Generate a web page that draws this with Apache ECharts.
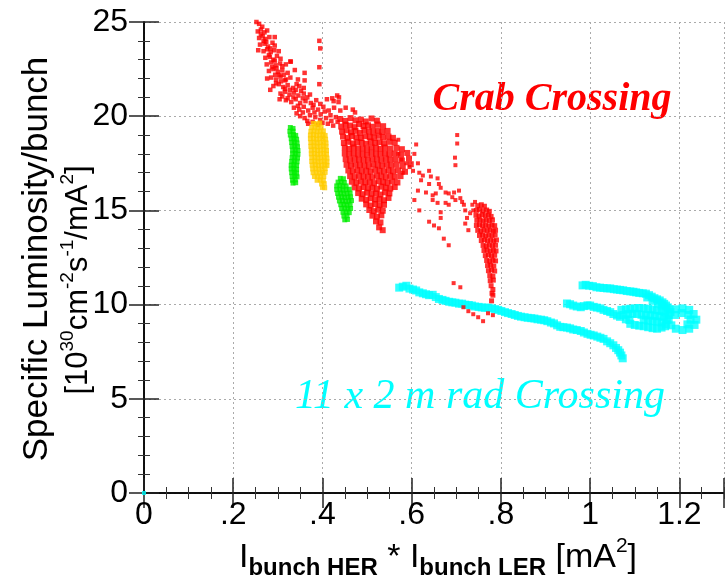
<!DOCTYPE html>
<html>
<head>
<meta charset="utf-8">
<script src="https://cdn.jsdelivr.net/npm/echarts@6/dist/echarts.min.js"></script>
<style>
  html, body { margin: 0; padding: 0; background: #fff; }
  #chart { width: 727px; height: 581px; }
</style>
</head>
<body>
<div id="chart"></div>
<script>
// tick labels
const xTickLabels = ['0', '.2', '.4', '.6', '.8', '1', '1.2']
const yTickLabels = ['0', '5', '10', '15', '20', '25']

// crab crossing, upper band (x = I_HER*I_LER [mA^2], y = spec. lumi)
const crabBand = [
  [0.252, 25.0], [0.258, 24.9], [0.265, 24.75],
  [0.255, 24.5], [0.262, 24.6], [0.27, 24.45], [0.276, 24.55], [0.262, 24.35],
  [0.258, 24.15], [0.266, 24.25], [0.272, 24.1], [0.281, 24.2], [0.293, 24.2], [0.268, 24.0], [0.274, 23.95],
  [0.26, 23.8], [0.27, 23.85], [0.278, 23.7], [0.288, 23.9], [0.293, 23.75], [0.283, 23.6],
  [0.256, 23.5], [0.268, 23.45], [0.276, 23.55], [0.284, 23.4], [0.292, 23.5], [0.302, 23.45], [0.28, 23.25],
  [0.272, 23.1], [0.282, 23.15], [0.29, 23.0], [0.298, 23.2], [0.306, 23.05], [0.293, 22.95],
  [0.275, 22.75], [0.285, 22.85], [0.295, 22.7], [0.305, 22.8], [0.318, 22.75], [0.328, 22.9], [0.287, 22.6], [0.297, 22.55], [0.31, 22.65],
  [0.28, 22.4], [0.29, 22.5], [0.3, 22.35], [0.31, 22.45], [0.322, 22.3], [0.338, 22.45], [0.303, 22.2], [0.294, 22.2], [0.313, 22.2],
  [0.276, 22.0], [0.285, 22.05], [0.296, 21.95], [0.306, 22.1], [0.316, 21.9], [0.328, 22.05], [0.345, 21.95], [0.318, 21.95],
  [0.296, 21.75], [0.307, 21.85], [0.316, 21.45], [0.327, 21.4], [0.34, 21.4], [0.342, 21.7], [0.352, 21.35],
  [0.283, 21.4], [0.29, 21.6], [0.302, 21.7], [0.312, 21.55], [0.322, 21.65], [0.334, 21.5], [0.348, 21.6], [0.358, 21.5],
  [0.306, 21.2], [0.316, 21.3], [0.326, 21.15], [0.336, 21.25], [0.346, 21.1], [0.358, 21.2], [0.372, 21.15],
  [0.31, 21.05], [0.322, 20.95], [0.335, 21.0], [0.356, 20.95], [0.366, 21.0],
  [0.304, 20.9], [0.318, 20.85], [0.33, 20.75], [0.34, 20.9], [0.35, 20.7], [0.362, 20.8], [0.374, 20.7], [0.386, 20.85],
  [0.41, 20.9], [0.425, 20.8], [0.436, 20.75], [0.345, 20.55], [0.38, 20.6], [0.395, 20.65],
  [0.336, 20.45], [0.348, 20.35], [0.358, 20.5], [0.368, 20.3], [0.378, 20.45], [0.39, 20.35], [0.402, 20.5],
  [0.414, 20.3], [0.426, 20.45], [0.44, 20.3], [0.452, 20.45], [0.468, 20.35],
  [0.342, 20.15], [0.356, 20.2], [0.382, 20.2], [0.405, 20.25],
  [0.35, 20.0], [0.36, 19.9], [0.372, 20.05], [0.384, 19.95], [0.396, 20.1], [0.408, 19.9], [0.418, 20.05], [0.43, 19.95],
  [0.366, 19.75], [0.395, 19.8], [0.42, 19.75],
  [0.368, 19.6], [0.378, 19.7], [0.39, 19.55], [0.4, 19.65], [0.412, 19.6], [0.424, 19.5], [0.434, 19.7],
  [0.393, 24.0], [0.395, 23.6], [0.393, 22.6], [0.393, 21.7], [0.36, 22.3], [0.36, 21.9], [0.329, 22.9],
  [0.433, 21.1], [0.437, 21.0], [0.422, 20.95], [0.473, 20.2]
]

// crab crossing, dense core
const crabCore = [
  [0.44, 19.85], [0.451, 19.75], [0.463, 19.9], [0.474, 19.78], [0.486, 19.82], [0.497, 19.72], [0.51, 19.88], [0.522, 19.76],
  [0.442, 19.45], [0.452, 19.55], [0.462, 19.5], [0.472, 19.42], [0.482, 19.58], [0.492, 19.48], [0.502, 19.52], [0.512, 19.44], [0.524, 19.56], [0.536, 19.47],
  [0.444, 19.18], [0.454, 19.25], [0.464, 19.15], [0.474, 19.22], [0.484, 19.12], [0.494, 19.26], [0.504, 19.2], [0.514, 19.14], [0.524, 19.24], [0.534, 19.16], [0.546, 19.22],
  [0.446, 18.92], [0.456, 18.85], [0.466, 18.95], [0.476, 18.88], [0.486, 18.84], [0.496, 18.94], [0.506, 18.9], [0.516, 18.86], [0.526, 18.96], [0.536, 18.88], [0.548, 18.92], [0.558, 18.85],
  [0.448, 18.58], [0.458, 18.64], [0.468, 18.55], [0.478, 18.62], [0.488, 18.6], [0.498, 18.54], [0.508, 18.66], [0.518, 18.58], [0.528, 18.62], [0.538, 18.56], [0.55, 18.64], [0.562, 18.6],
  [0.45, 18.32], [0.46, 18.26], [0.47, 18.34], [0.48, 18.28], [0.49, 18.3], [0.5, 18.24], [0.51, 18.36], [0.52, 18.3], [0.53, 18.26], [0.54, 18.34], [0.552, 18.28], [0.566, 18.32], [0.578, 18.25],
  [0.45, 18.02], [0.46, 17.96], [0.47, 18.04], [0.48, 17.98], [0.49, 18.0], [0.5, 17.94], [0.51, 18.06], [0.52, 18.0], [0.53, 17.96], [0.54, 18.04], [0.55, 17.98], [0.562, 18.02], [0.576, 17.95], [0.59, 18.05],
  [0.452, 17.72], [0.462, 17.66], [0.472, 17.74], [0.482, 17.68], [0.492, 17.7], [0.502, 17.64], [0.512, 17.76], [0.522, 17.7], [0.532, 17.66], [0.542, 17.74], [0.552, 17.68], [0.564, 17.72], [0.578, 17.65], [0.594, 17.75],
  [0.454, 17.42], [0.464, 17.36], [0.474, 17.44], [0.484, 17.38], [0.494, 17.4], [0.504, 17.34], [0.514, 17.46], [0.524, 17.4], [0.534, 17.36], [0.544, 17.44], [0.554, 17.38], [0.566, 17.42], [0.58, 17.35], [0.598, 17.45],
  [0.458, 17.12], [0.468, 17.06], [0.478, 17.14], [0.488, 17.08], [0.498, 17.1], [0.508, 17.04], [0.518, 17.16], [0.528, 17.1], [0.538, 17.06], [0.548, 17.14], [0.558, 17.08], [0.57, 17.12], [0.585, 17.05],
  [0.462, 16.82], [0.472, 16.76], [0.482, 16.84], [0.492, 16.78], [0.502, 16.8], [0.512, 16.74], [0.522, 16.86], [0.532, 16.8], [0.542, 16.76], [0.552, 16.84], [0.562, 16.78], [0.575, 16.82],
  [0.466, 16.52], [0.476, 16.46], [0.486, 16.54], [0.496, 16.48], [0.506, 16.5], [0.516, 16.44], [0.526, 16.56], [0.536, 16.5], [0.546, 16.46], [0.556, 16.54], [0.568, 16.48],
  [0.472, 16.22], [0.482, 16.16], [0.492, 16.24], [0.502, 16.18], [0.512, 16.2], [0.522, 16.14], [0.532, 16.26], [0.542, 16.2], [0.552, 16.16], [0.562, 16.24],
  [0.48, 15.92], [0.49, 15.86], [0.5, 15.94], [0.51, 15.88], [0.52, 15.9], [0.53, 15.84], [0.54, 15.96], [0.55, 15.9],
  [0.488, 15.62], [0.498, 15.56], [0.508, 15.64], [0.518, 15.58], [0.528, 15.6], [0.538, 15.54], [0.548, 15.66],
  [0.498, 15.32], [0.508, 15.26], [0.518, 15.34], [0.528, 15.28], [0.538, 15.3],
  [0.505, 15.02], [0.515, 14.96], [0.525, 15.04], [0.535, 14.98],
  [0.512, 14.72], [0.522, 14.66], [0.532, 14.74],
  [0.52, 14.42], [0.53, 14.36], [0.527, 14.1], [0.535, 13.95]
]

// crab crossing, sparse points between core and stripe
const crabSparse = [
  [0.57, 18.75], [0.57, 18.0], [0.577, 17.7], [0.588, 17.5], [0.58, 17.0], [0.595, 17.3], [0.603, 17.1],
  [0.61, 18.5], [0.606, 18.0], [0.614, 17.5], [0.617, 17.0], [0.625, 16.85], [0.621, 16.6],
  [0.639, 17.1], [0.643, 16.8], [0.639, 16.4], [0.658, 16.7], [0.661, 16.4], [0.665, 16.2],
  [0.632, 15.95], [0.647, 15.8], [0.614, 16.05], [0.606, 15.55], [0.617, 15.0],
  [0.639, 14.4], [0.65, 14.2], [0.661, 14.05], [0.672, 13.5], [0.683, 13.15],
  [0.647, 15.55], [0.658, 15.4], [0.654, 15.9], [0.676, 15.95], [0.683, 15.9], [0.691, 15.7],
  [0.698, 15.55], [0.695, 15.95], [0.706, 16.05], [0.709, 15.65], [0.713, 15.45], [0.717, 15.3], [0.72, 15.0],
  [0.665, 14.9], [0.665, 14.6], [0.676, 15.4], [0.683, 15.3],
  [0.702, 19.0], [0.702, 18.55], [0.697, 17.8], [0.698, 17.4],
  [0.724, 14.6], [0.72, 14.3], [0.731, 14.85], [0.738, 15.0], [0.727, 13.95], [0.736, 15.3], [0.742, 15.45],
  [0.694, 11.14], [0.709, 10.92], [0.716, 9.86], [0.727, 9.65], [0.738, 9.49], [0.749, 9.33], [0.76, 9.12],
  [0.782, 9.44], [0.771, 9.54]
]

// crab crossing, stripe near 0.77
const crabStripe = [
  [0.748, 15.25], [0.756, 15.3], [0.763, 15.22],
  [0.745, 15.0], [0.752, 15.05], [0.76, 14.97], [0.768, 15.02], [0.774, 14.95],
  [0.744, 14.74], [0.751, 14.7], [0.758, 14.78], [0.765, 14.72], [0.772, 14.76], [0.778, 14.68],
  [0.746, 14.47], [0.753, 14.5], [0.76, 14.44], [0.767, 14.49], [0.774, 14.45], [0.781, 14.5],
  [0.745, 14.2], [0.752, 14.24], [0.759, 14.18], [0.766, 14.22], [0.773, 14.17], [0.78, 14.23], [0.786, 14.19],
  [0.748, 13.94], [0.755, 13.9], [0.762, 13.97], [0.769, 13.92], [0.776, 13.96], [0.783, 13.9], [0.788, 13.95],
  [0.752, 13.67], [0.759, 13.7], [0.766, 13.64], [0.773, 13.69], [0.78, 13.65], [0.787, 13.7],
  [0.756, 13.4], [0.763, 13.44], [0.77, 13.38], [0.777, 13.42], [0.784, 13.37], [0.79, 13.43],
  [0.76, 13.14], [0.767, 13.1], [0.774, 13.16], [0.781, 13.12], [0.788, 13.15],
  [0.762, 12.87], [0.769, 12.9], [0.776, 12.84], [0.783, 12.88], [0.789, 12.85],
  [0.765, 12.6], [0.772, 12.64], [0.779, 12.58], [0.786, 12.62],
  [0.768, 12.34], [0.775, 12.3], [0.782, 12.36], [0.788, 12.32],
  [0.77, 12.07], [0.777, 12.1], [0.784, 12.04],
  [0.772, 11.8], [0.779, 11.84], [0.786, 11.78],
  [0.775, 11.54], [0.782, 11.5], [0.776, 11.27], [0.783, 11.3],
  [0.778, 11.0], [0.782, 10.8], [0.78, 10.6], [0.782, 10.5], [0.779, 10.2]
]

// green and yellow runs
const greenA = [
  [0.328, 19.4], [0.334, 19.35], [0.327, 19.2], [0.334, 19.2],
  [0.328, 19.0], [0.335, 19.02], [0.34, 18.98], [0.33, 18.8], [0.336, 18.82], [0.342, 18.78],
  [0.331, 18.6], [0.337, 18.62], [0.343, 18.58], [0.332, 18.4], [0.338, 18.42], [0.344, 18.38],
  [0.333, 18.2], [0.339, 18.22], [0.345, 18.18], [0.333, 18.0], [0.339, 18.02], [0.345, 17.98],
  [0.332, 17.8], [0.338, 17.82], [0.344, 17.78], [0.331, 17.6], [0.337, 17.62], [0.343, 17.58],
  [0.33, 17.4], [0.336, 17.42], [0.342, 17.38], [0.33, 17.2], [0.336, 17.22], [0.342, 17.18],
  [0.331, 17.0], [0.337, 17.02], [0.342, 16.98], [0.332, 16.8], [0.338, 16.82], [0.343, 16.78],
  [0.333, 16.6], [0.339, 16.62], [0.334, 16.45], [0.34, 16.47]
]
const greenB = [
  [0.44, 16.7], [0.447, 16.68],
  [0.435, 16.5], [0.442, 16.52], [0.449, 16.48],
  [0.432, 16.3], [0.439, 16.32], [0.446, 16.28], [0.453, 16.3],
  [0.432, 16.1], [0.439, 16.12], [0.446, 16.08], [0.453, 16.1], [0.46, 16.12],
  [0.434, 15.9], [0.441, 15.92], [0.448, 15.88], [0.455, 15.9], [0.462, 15.92],
  [0.436, 15.7], [0.443, 15.72], [0.45, 15.68], [0.457, 15.7], [0.463, 15.72],
  [0.438, 15.5], [0.445, 15.52], [0.452, 15.48], [0.459, 15.5], [0.465, 15.52],
  [0.441, 15.3], [0.448, 15.32], [0.455, 15.28], [0.462, 15.3],
  [0.443, 15.1], [0.45, 15.12], [0.457, 15.08], [0.463, 15.1],
  [0.446, 14.9], [0.453, 14.92], [0.46, 14.88],
  [0.448, 14.7], [0.455, 14.72], [0.45, 14.5], [0.456, 14.52]
]
const yellowA = [
  [0.38, 19.62], [0.387, 19.6], [0.394, 19.64],
  [0.376, 19.4], [0.383, 19.42], [0.39, 19.38], [0.397, 19.4],
  [0.374, 19.2], [0.381, 19.22], [0.388, 19.18], [0.395, 19.2], [0.402, 19.22],
  [0.373, 19.0], [0.38, 19.02], [0.387, 18.98], [0.394, 19.0], [0.401, 19.02], [0.406, 18.98],
  [0.373, 18.8], [0.38, 18.82], [0.387, 18.78], [0.394, 18.8], [0.401, 18.82], [0.407, 18.78],
  [0.374, 18.6], [0.381, 18.62], [0.388, 18.58], [0.395, 18.6], [0.402, 18.62], [0.408, 18.58],
  [0.374, 18.4], [0.381, 18.42], [0.388, 18.38], [0.395, 18.4], [0.402, 18.42], [0.408, 18.38],
  [0.375, 18.2], [0.382, 18.22], [0.389, 18.18], [0.396, 18.2], [0.403, 18.22], [0.409, 18.18],
  [0.375, 18.0], [0.382, 18.02], [0.389, 17.98], [0.396, 18.0], [0.403, 18.02], [0.409, 17.98],
  [0.376, 17.8], [0.383, 17.82], [0.39, 17.78], [0.397, 17.8], [0.404, 17.82], [0.41, 17.78],
  [0.376, 17.6], [0.383, 17.62], [0.39, 17.58], [0.397, 17.6], [0.404, 17.62], [0.41, 17.58],
  [0.377, 17.4], [0.384, 17.42], [0.391, 17.38], [0.398, 17.4], [0.405, 17.42], [0.41, 17.38],
  [0.378, 17.2], [0.385, 17.22], [0.392, 17.18], [0.399, 17.2], [0.406, 17.22],
  [0.379, 17.0], [0.386, 17.02], [0.393, 16.98], [0.4, 17.0], [0.406, 17.02],
  [0.382, 16.8], [0.389, 16.82], [0.396, 16.78], [0.403, 16.8],
  [0.388, 16.6], [0.395, 16.62], [0.402, 16.58],
  [0.398, 16.4], [0.404, 16.42], [0.4, 16.22], [0.405, 16.2]
]

// 11 x 2 mrad crossing (cyan)
const flatLower = [
  [0.572, 10.9], [0.58, 10.95], [0.588, 11.0], [0.595, 10.85], [0.603, 10.8], [0.61, 10.75], [0.617, 10.65],
  [0.625, 10.6], [0.632, 10.55], [0.639, 10.5], [0.647, 10.52], [0.654, 10.4], [0.661, 10.3], [0.669, 10.25],
  [0.676, 10.2], [0.684, 10.15], [0.691, 10.12], [0.698, 10.1], [0.706, 10.05], [0.713, 10.05], [0.72, 10.0],
  [0.728, 9.98], [0.735, 9.95], [0.742, 9.9], [0.75, 9.88], [0.757, 9.85], [0.764, 9.83], [0.772, 9.84],
  [0.78, 9.8], [0.787, 9.76], [0.794, 9.72], [0.801, 9.66], [0.809, 9.6], [0.816, 9.55], [0.824, 9.5],
  [0.831, 9.45], [0.838, 9.4], [0.845, 9.36], [0.853, 9.33], [0.86, 9.3], [0.868, 9.28], [0.875, 9.26],
  [0.882, 9.22], [0.89, 9.2], [0.897, 9.17], [0.904, 9.12], [0.912, 9.05], [0.919, 9.0], [0.926, 8.9],
  [0.933, 8.82], [0.94, 8.8], [0.948, 8.78], [0.955, 8.74], [0.962, 8.68], [0.97, 8.65], [0.979, 8.6],
  [0.986, 8.52], [0.994, 8.45], [1.001, 8.4], [1.008, 8.36], [1.016, 8.3], [1.023, 8.24], [1.03, 8.18],
  [1.038, 8.05], [1.045, 7.95], [1.052, 7.84], [1.058, 7.7], [1.063, 7.58], [1.067, 7.45], [1.07, 7.3], [1.073, 7.15]
]
const flatUpper = [
  [0.983, 11.02], [0.99, 11.05], [0.998, 11.0], [1.006, 10.98], [1.014, 10.92], [1.022, 10.9], [1.03, 10.88],
  [1.038, 10.86], [1.045, 10.86], [1.053, 10.82], [1.06, 10.8], [1.067, 10.78], [1.074, 10.76], [1.082, 10.72],
  [1.09, 10.7], [1.097, 10.68], [1.103, 10.65], [1.11, 10.62], [1.118, 10.6], [1.125, 10.58], [1.132, 10.5],
  [1.138, 10.42], [1.144, 10.34], [1.15, 10.28], [1.156, 10.22], [1.162, 10.12], [1.166, 10.04], [1.17, 9.95],
  [1.174, 9.85], [1.178, 9.75], [1.128, 10.38], [1.14, 10.2], [1.152, 10.05], [1.16, 9.95]
]
const flatMiddle = [
  [0.948, 10.06], [0.955, 10.02], [0.962, 9.95], [0.97, 9.9], [0.979, 9.86], [0.986, 9.92], [0.994, 9.96],
  [1.0, 9.95], [1.008, 9.88], [1.015, 9.84], [1.023, 9.8], [1.03, 9.72], [1.038, 9.66], [1.045, 9.6],
  [1.052, 9.5], [1.06, 9.42], [1.067, 9.35]
]
const flatLoops = [
  [1.07, 9.72], [1.08, 9.75], [1.09, 9.78], [1.1, 9.8], [1.11, 9.82], [1.12, 9.8], [1.13, 9.77], [1.14, 9.74],
  [1.15, 9.7], [1.16, 9.66], [1.168, 9.6],
  [1.075, 9.45], [1.085, 9.5], [1.095, 9.52], [1.105, 9.5], [1.115, 9.46], [1.125, 9.42], [1.135, 9.44],
  [1.145, 9.4], [1.155, 9.38], [1.165, 9.35],
  [1.08, 9.22], [1.088, 9.18], [1.12, 9.2], [1.13, 9.15], [1.14, 9.12], [1.15, 9.1], [1.16, 9.05],
  [1.09, 8.98], [1.1, 8.92], [1.11, 8.88], [1.12, 8.85], [1.13, 8.8], [1.14, 8.75], [1.15, 8.72],
  [1.16, 8.78], [1.168, 8.85], [1.172, 9.2], [1.176, 9.45], [1.17, 8.95],
  [1.18, 9.6], [1.192, 9.75], [1.207, 9.8], [1.222, 9.72], [1.232, 9.5], [1.238, 9.2], [1.234, 8.92],
  [1.222, 8.72], [1.207, 8.65], [1.192, 8.72], [1.182, 8.9], [1.176, 9.2],
  [1.19, 9.45], [1.205, 9.55], [1.22, 9.45], [1.225, 9.2], [1.218, 8.95]
]
const flatOrigin = [[0, 0]]

const FONT = '"Liberation Sans", Arial, Helvetica, sans-serif'
const SERIF = '"Liberation Serif", "Times New Roman", serif'

const chart = echarts.init(document.getElementById('chart'), null, { renderer: 'canvas' })

const tickStyle = { color: '#222', width: 1.5 }
const minorStyle = { color: '#333', width: 1 }

function xLabel(v) {
  const i = Math.round(v / 0.2)
  return Math.abs(v / 0.2 - i) < 1e-6 && xTickLabels[i] !== undefined ? xTickLabels[i] : ''
}
function yLabel(v) {
  const i = Math.round(v / 5)
  return Math.abs(v / 5 - i) < 1e-6 && yTickLabels[i] !== undefined ? yTickLabels[i] : ''
}

function scatter(name, data, color, size, z) {
  return {
    name: name,
    type: 'scatter',
    data: data,
    symbol: 'rect',
    symbolSize: size,
    itemStyle: { color: color },
    z: z,
    silent: true,
    animation: false
  }
}

chart.setOption({
  backgroundColor: '#fff',
  animation: false,
  grid: { left: 144, top: 22, width: 588, height: 471 },
  xAxis: [{
    type: 'value', min: 0, max: 1.3, interval: 0.2,
    axisLine: { lineStyle: { color: '#000', width: 1.5 } },
    axisTick: { inside: true, length: 15, lineStyle: tickStyle },
    minorTick: { show: true, splitNumber: 4, length: 6, lineStyle: minorStyle },
    axisLabel: { formatter: xLabel, fontSize: 32, fontFamily: FONT, color: '#000', margin: 6 },
    splitLine: { show: true, lineStyle: { color: '#aaa', width: 1, type: [2, 3] } }
  }, {
    type: 'value', position: 'top', min: 0, max: 1.3, interval: 0.2,
    axisLine: { show: true, lineStyle: { color: '#000', width: 1.5 } },
    axisTick: { show: true, inside: true, length: 15, lineStyle: tickStyle },
    minorTick: { show: true, splitNumber: 4, length: 6, lineStyle: minorStyle },
    axisLabel: { show: false },
    splitLine: { show: false }
  }],
  yAxis: [{
    type: 'value', min: 0, max: 25, interval: 5,
    axisLine: { show: true, lineStyle: { color: '#000', width: 1.5 } },
    axisTick: { show: true, inside: true, length: 15, lineStyle: tickStyle },
    minorTick: { show: true, splitNumber: 5, length: 6, lineStyle: minorStyle },
    axisLabel: { formatter: yLabel, fontSize: 32, fontFamily: FONT, color: '#000', margin: 16 },
    splitLine: { show: true, lineStyle: { color: '#aaa', width: 1, type: [2, 3] } }
  }, {
    type: 'value', position: 'right', min: 0, max: 25, interval: 5,
    axisLine: { show: true, lineStyle: { color: '#000', width: 1.5 } },
    axisTick: { show: true, inside: true, length: 15, lineStyle: tickStyle },
    minorTick: { show: true, splitNumber: 5, length: 6, lineStyle: minorStyle },
    axisLabel: { show: false },
    splitLine: { show: false }
  }],
  series: [
    scatter('flatLower', flatLower, '#00ffff', 8, 2),
    scatter('flatUpper', flatUpper, '#00ffff', 8, 2),
    scatter('flatMiddle', flatMiddle, '#00ffff', 8, 2),
    scatter('flatLoops', flatLoops, '#00ffff', 8, 2),
    scatter('flatOrigin', flatOrigin, '#00ffff', 4, 2),
    scatter('crabBand', crabBand, '#ff0000', 4.5, 3),
    scatter('crabCore', crabCore, '#ff0000', 6, 3),
    scatter('crabSparse', crabSparse, '#ff0000', 4, 3),
    scatter('crabStripe', crabStripe, '#ff0000', 5, 3),
    scatter('yellowA', yellowA, '#ffcc00', 5, 4),
    scatter('greenA', greenA, '#00ee00', 5, 4),
    scatter('greenB', greenB, '#00ee00', 5, 4)
  ],
  graphic: [
    {
      type: 'text', x: 37, y: 259, rotation: Math.PI / 2,
      style: {
        text: 'Specific Luminosity/bunch',
        fontSize: 35, fontFamily: FONT, fill: '#000',
        align: 'center', verticalAlign: 'middle'
      }
    },
    {
      type: 'text', x: 78, y: 280, rotation: Math.PI / 2,
      style: {
        text: '{m|[10}{p|30}{m|cm}{p|-2}{m|s}{p|-1}{m|/mA}{p|2}{m|]}',
        align: 'center', verticalAlign: 'middle',
        rich: {
          m: { fontSize: 31, fontFamily: FONT, fill: '#000', lineHeight: 40 },
          p: { fontSize: 19, fontFamily: FONT, fill: '#000', lineHeight: 20, verticalAlign: 'top' }
        }
      }
    },
    {
      type: 'text', x: 438, y: 558,
      style: {
        text: '{m|I}{s|bunch HER}{m| * I}{s|bunch LER}{m| [mA}{p|2}{m|]}',
        align: 'center', verticalAlign: 'middle',
        rich: {
          m: { fontSize: 34, fontFamily: FONT, fill: '#000', lineHeight: 44 },
          s: { fontSize: 24, fontWeight: 'bold', fontFamily: FONT, fill: '#000', lineHeight: 24, verticalAlign: 'bottom' },
          p: { fontSize: 21, fontFamily: FONT, fill: '#000', lineHeight: 22, verticalAlign: 'top' }
        }
      }
    },
    {
      type: 'text', x: 552, y: 100,
      style: {
        text: 'Crab Crossing',
        fontSize: 40, fontWeight: 'bold', fontStyle: 'italic', fontFamily: SERIF, fill: '#ff0000',
        align: 'center', verticalAlign: 'middle'
      }
    },
    {
      type: 'text', x: 480, y: 397,
      style: {
        text: '11 x 2 m rad Crossing',
        fontSize: 42, fontStyle: 'italic', fontFamily: SERIF, fill: '#00ffff',
        align: 'center', verticalAlign: 'middle'
      }
    }
  ]
})
</script>
</body>
</html>
